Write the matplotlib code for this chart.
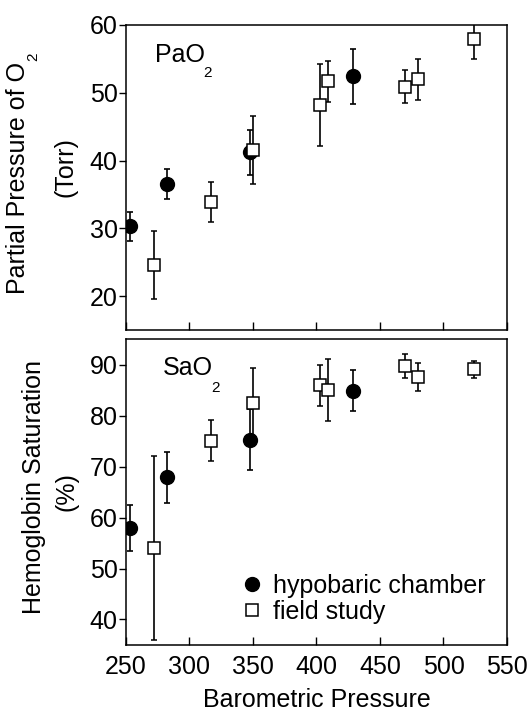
import matplotlib
matplotlib.use("Agg")
import matplotlib.pyplot as plt
import numpy as np

plt.rcParams['font.family'] = ['Liberation Sans', 'DejaVu Sans']

# hypobaric chamber
ch_p = [253, 282, 348, 429]
ch_pao2 = [30.3, 36.6, 41.2, 52.4]
ch_pao2_err = [2.1, 2.2, 3.3, 4.0]
ch_sao2 = [58.0, 67.9, 75.3, 84.9]
ch_sao2_err = [4.5, 5.0, 6.0, 4.0]

# field study
fs_p = [272, 317, 350, 403, 409, 470, 480, 524]
fs_pao2 = [24.6, 33.9, 41.6, 48.2, 51.7, 50.9, 52.0, 58.0]
fs_pao2_err = [5.0, 3.0, 5.0, 6.0, 3.0, 2.4, 3.0, 3.0]
fs_sao2 = [54.0, 75.1, 82.4, 85.9, 85.0, 89.7, 87.6, 89.1]
fs_sao2_err = [18.0, 4.0, 7.0, 4.0, 6.0, 2.4, 2.7, 1.7]

W, H = 527, 713
fig = plt.figure(figsize=(W / 100, H / 100), dpi=100)
ax1 = fig.add_axes([0.239, 0.537, 0.723, 0.428])
ax2 = fig.add_axes([0.239, 0.0954, 0.723, 0.429])

fs = 18
sub = 11

def px(x, y):
    # pixel position (from top left) -> figure fraction
    return x / W, 1 - y / H

def draw(ax, cy, cerr, fy, ferr):
    ax.errorbar(ch_p, cy, yerr=cerr, fmt='o', color='black', ms=10,
                capsize=2.2, elinewidth=1.2, capthick=1.2,
                label='hypobaric chamber', zorder=3)
    ax.errorbar(fs_p, fy, yerr=ferr, fmt='s', mfc='white', mec='black',
                color='black', ms=8.2, mew=1.1, capsize=2.2, elinewidth=1.2,
                capthick=1.2, label='field study', zorder=4)
    ax.set_xlim(250, 550)
    ax.set_xticks(np.arange(250, 551, 50))
    ax.tick_params(axis='x', direction='in', length=6, width=1,
                   labelsize=fs, pad=7)
    ax.tick_params(axis='y', direction='out', length=5, width=1,
                   labelsize=fs, pad=1)
    for s in ax.spines.values():
        s.set_linewidth(1.1)

draw(ax1, ch_pao2, ch_pao2_err, fs_pao2, fs_pao2_err)
ax1.set_ylim(15, 60)
ax1.set_yticks([20, 30, 40, 50, 60])
ax1.tick_params(axis='x', labelbottom=False)
ax1.text(0.076, 0.879, 'PaO', transform=ax1.transAxes, fontsize=fs,
         va='baseline')
ax1.text(0.204, 0.830, '2', transform=ax1.transAxes, fontsize=sub,
         va='baseline')

draw(ax2, ch_sao2, ch_sao2_err, fs_sao2, fs_sao2_err)
ax2.set_ylim(35, 95)
ax2.set_yticks([40, 50, 60, 70, 80, 90])
ax2.set_xlabel('Barometric Pressure', fontsize=fs, labelpad=6.5)
ax2.text(0.097, 0.882, 'SaO', transform=ax2.transAxes, fontsize=fs,
         va='baseline')
ax2.text(0.225, 0.827, '2', transform=ax2.transAxes, fontsize=sub,
         va='baseline')

# y labels, drawn line by line
fig.text(*px(6, 178), 'Partial Pressure of O', rotation=90, fontsize=fs,
         ha='left', va='center')
fig.text(*px(26, 61), '2', rotation=90, fontsize=sub, ha='left', va='bottom')
fig.text(*px(65.5, 167), '(Torr)', rotation=90, fontsize=fs,
         ha='center', va='center')
fig.text(*px(21.5, 487), 'Hemoglobin Saturation', rotation=90, fontsize=fs,
         ha='left', va='center')
fig.text(*px(66.5, 492), '(%)', rotation=90, fontsize=fs,
         ha='center', va='center')

h, l = ax2.get_legend_handles_labels()
h = [x[0] for x in h]
ax2.legend(h, l, loc='lower left', frameon=False, fontsize=fs,
           handletextpad=0.4, handlelength=0.9, borderaxespad=0,
           labelspacing=0.1, borderpad=0, bbox_to_anchor=(0.3, 0.068))

fig.savefig('out.png', dpi=100)
